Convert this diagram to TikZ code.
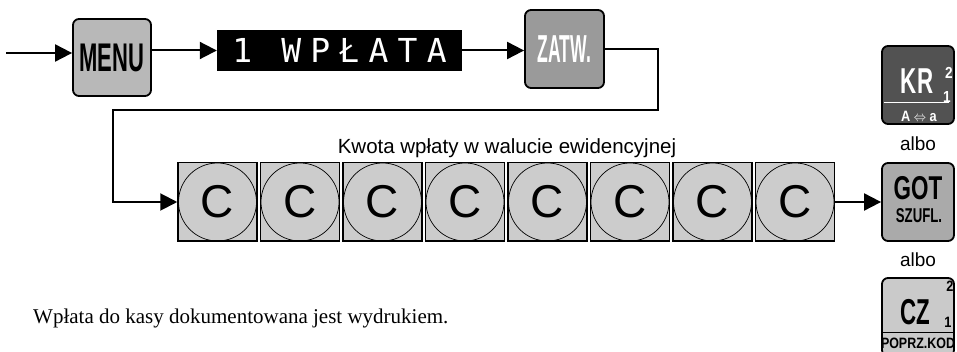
\documentclass[tikz,border=0pt]{standalone}
\usepackage{fontspec}
\setmainfont{Liberation Serif}
\setsansfont{Liberation Sans}
\newfontfamily\keyfont{Liberation Sans}
\newfontfamily\lcdfont[LetterSpace=28]{DejaVu Sans Mono}
\usepackage{graphicx}
\usetikzlibrary{arrows.meta, positioning, calc}
\definecolor{menugray}{RGB}{184, 184, 184}
\definecolor{zatwgray}{RGB}{154, 154, 154}
\definecolor{krgray}{RGB}{82, 82, 82}
\definecolor{gotgray}{RGB}{170, 170, 170}
\definecolor{czgray}{RGB}{202, 202, 202}
\definecolor{digitgray}{RGB}{204, 204, 204}
\newcommand{\squeezed}[2]{\scalebox{#1}[1]{#2}}

\begin{document}
\begin{tikzpicture}[
    x=1pt, y=-1pt,
    key/.style={rectangle, draw=black, line width=1.8pt, rounded corners=6pt, inner sep=0pt, minimum width=72pt, minimum height=78pt},
    keytxt/.style={inner sep=0pt, font=\keyfont\bfseries},
    lcd/.style={rectangle, fill=black, text=white, inner sep=0pt, minimum width=245pt, minimum height=41pt, font=\lcdfont\fontsize{33}{33}\selectfont},
    digit/.style={rectangle, draw=black, fill=digitgray, line width=1.5pt, inner sep=0pt, minimum width=79pt, minimum height=78.5pt, font=\sffamily\fontsize{46}{46}\selectfont,
        path picture={\draw[line width=0.7pt] (path picture bounding box.center) circle (39pt);}},
    note/.style={inner sep=0pt, anchor=base, font=\sffamily\fontsize{19}{19}\selectfont},
    arrow/.style={line width=2pt, -{Triangle[length=17pt, width=17pt]}}
]
\useasboundingbox (0,0) rectangle (957,352);

% top row
\coordinate (start) at (6,53);
\node (menu) [key, fill=menugray, minimum width=78pt, minimum height=77pt] at (112,57.5) {\keyfont\bfseries\fontsize{40}{40}\selectfont\squeezed{0.55}{MENU}};
\node (disp) [lcd] at (339.5,50.5) {1 WPŁATA};
\node (zatw) [key, fill=zatwgray, minimum width=79pt, minimum height=78pt] at (564.5,49) {\keyfont\bfseries\color{white}\fontsize{39}{39}\selectfont\squeezed{0.45}{ZATW.}};

\draw[arrow] (start) -- (start -| menu.west);
\draw[arrow] (menu.east |- disp) -- (disp.west);
\draw[arrow] (disp.east) -- (disp.east -| zatw.west);

% amount keys
\node (kwota) [note, font=\sffamily\fontsize{20.5}{20.5}\selectfont] at (507,154) {Kwota wpłaty w walucie ewidencyjnej};
\node (c1) [digit] at (217.5,202) {C};
\foreach \i [count=\prev from 1] in {2,...,8}
    \node (c\i) [digit, right=2pt of c\prev] {C};

\coordinate (turnR) at (658,110);
\coordinate (turnL) at (113,110);
\draw[arrow] (zatw.east) -| (turnR) -- (turnL) |- (c1.west);

% right column
\node (kr) [key, fill=krgray] at (918,85) {};
\node [keytxt, text=white] at ($(kr.center)+(-1,-4)$) {\fontsize{36}{36}\selectfont\squeezed{0.62}{KR}};
\node [keytxt, text=white] at ($(kr.center)+(31,-12)$) {\fontsize{16}{16}\selectfont\squeezed{0.85}{2}};
\node [keytxt, text=white] at ($(kr.center)+(29,12)$) {\fontsize{16}{16}\selectfont\squeezed{0.85}{1}};
\draw[white, line width=1pt] ($(kr.center)+(-34.5,17.5)$) -- ($(kr.center)+(31,17.5)$);
\node [keytxt, text=white] at ($(kr.center)+(1,31)$) {\fontsize{15}{15}\selectfont\squeezed{0.85}{A $\Leftrightarrow$ a}};

\node (albo1) [note] at (918,151) {albo};

\node (got) [key, fill=gotgray] at (918,202) {};
\node [keytxt] at ($(got.center)+(0,-13.5)$) {\fontsize{33}{33}\selectfont\squeezed{0.68}{GOT}};
\node [keytxt] at ($(got.center)+(1,14)$) {\fontsize{20}{20}\selectfont\squeezed{0.66}{SZUFL.}};

\node (albo2) [note] at (918,266) {albo};

\node (cz) [key, fill=czgray] at (918,317) {};
\node [keytxt] at ($(cz.center)+(-2.5,-5)$) {\fontsize{36}{36}\selectfont\squeezed{0.62}{CZ}};
\node [keytxt] at ($(cz.center)+(32,-31)$) {\fontsize{15}{15}\selectfont\squeezed{0.85}{2}};
\node [keytxt] at ($(cz.center)+(30,5)$) {\fontsize{15}{15}\selectfont\squeezed{0.85}{1}};
\draw[black, line width=1pt] ($(cz.center)+(-36,15)$) -- ($(cz.center)+(36,15)$);
\node [keytxt] at ($(cz.center)+(0,26)$) {\fontsize{15}{15}\selectfont\squeezed{0.83}{POPRZ.KOD}};

\draw[arrow] (c8.east) -- (got.west);

% note
\node (info) [inner sep=0pt, anchor=base west, font=\rmfamily\fontsize{21}{21}\selectfont] at (33,323) {Wpłata do kasy dokumentowana jest wydrukiem.};

\end{tikzpicture}
\end{document}
